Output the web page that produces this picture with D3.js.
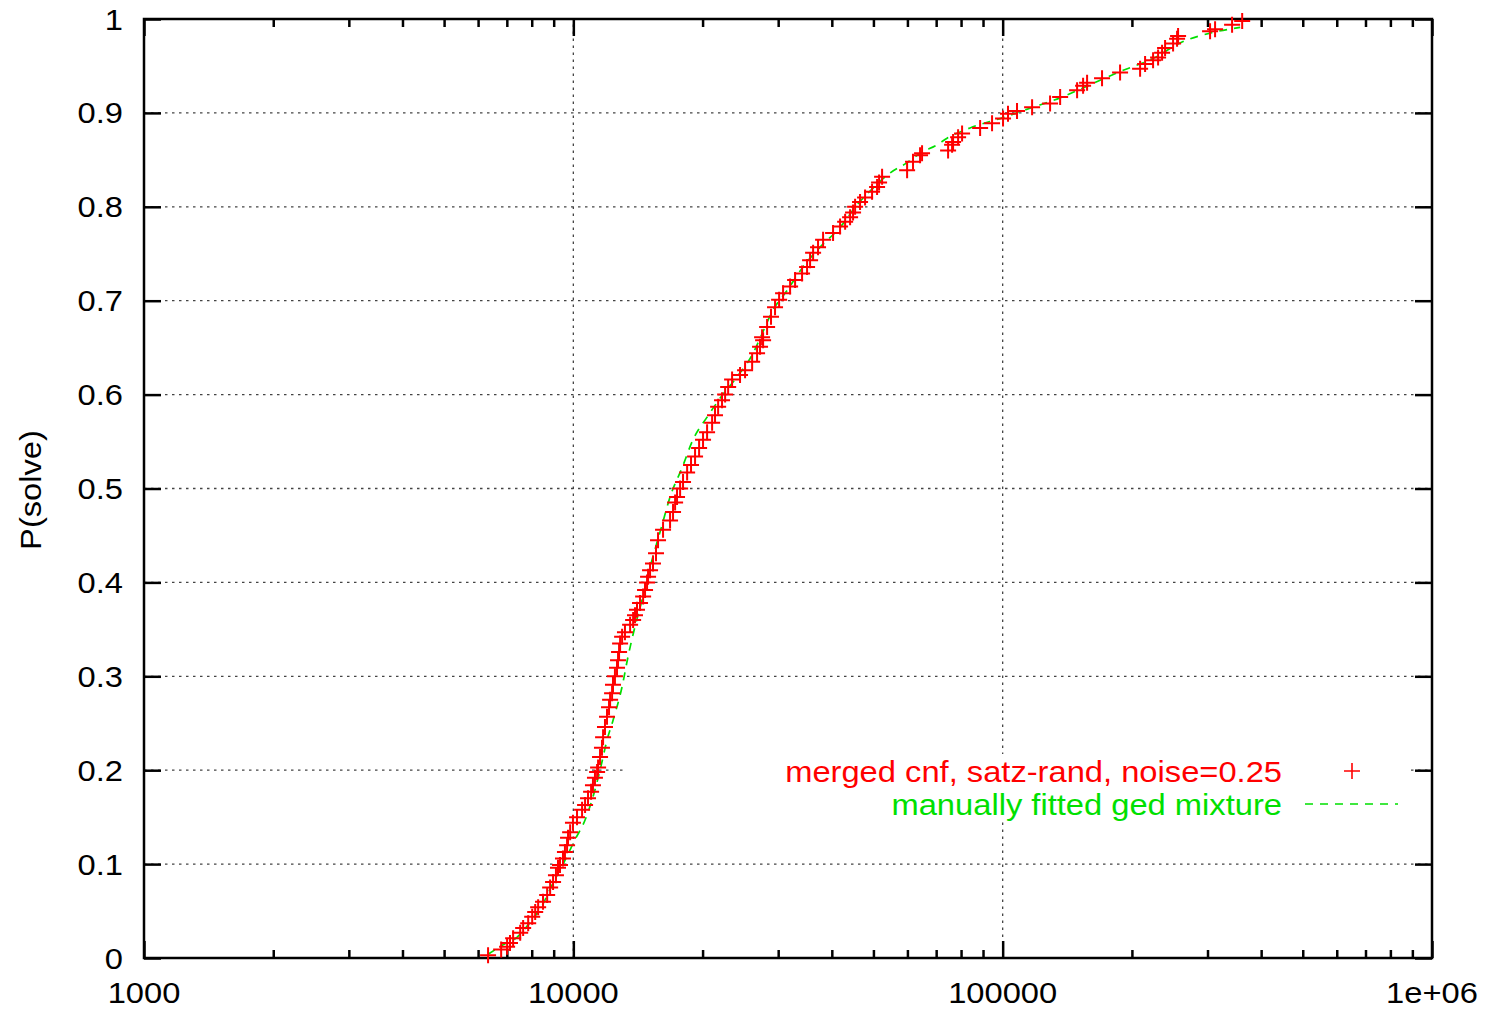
<!DOCTYPE html>
<html>
<head>
<meta charset="utf-8">
<script src="https://cdn.jsdelivr.net/npm/d3@7"></script>
<style>
  body { margin: 0; background: #fff; }
  text { font-family: "Liberation Sans", Arial, Helvetica, sans-serif; }
</style>
</head>
<body>
<div id="chart"></div>
<script>
// run length (x) and P(solve) (y)
var solveX = [6330, 6790, 7010, 7120, 7240, 7520, 7640, 7850, 8020, 8150, 8280, 8500, 8690, 8830, 8970, 9110, 9210, 9310, 9460, 9560, 9670, 9720, 9830, 9980, 10200, 10480, 10650, 10820, 11000, 11110, 11230, 11360,
  11420, 11540, 11660, 11730, 11850, 11980, 12110, 12180, 12310, 12370, 12500, 12640, 12710, 12780, 12850, 12990, 13190, 13560, 13780, 13920, 14070, 14300, 14540, 14690, 14850, 14930, 15090,
  15330, 15580, 15750, 16180, 16800, 17070, 17260, 17440, 17730, 18010, 18410, 18800, 19210, 19630, 20050, 20490, 21050, 21380, 21740, 22200, 22570, 22940, 23430, 24450, 25120, 26090, 26790, 27220, 27670,
  27520, 28270, 28870, 29500, 30150, 30800, 31980, 32850, 34100, 35030, 35600, 36180, 37150, 38170, 40270, 41810, 42960, 44120, 44830, 45320, 46540, 47810, 49640, 50990, 51540, 52380, 59900, 61830, 64210, 64900,
  74630, 76240, 76650, 78740, 80440, 88610, 94470, 100200, 102900, 108000, 117100, 128950, 136100, 149060, 153930, 157270, 170400, 187700, 208980, 214650, 224050, 230150, 235130, 238950, 249430, 254830, 256200, 304150, 312430, 342250, 361300];
var solveP = [.003, .009, .012, .016, .021, .027, .032, .037, .044, .049, .054, .060, .067, .075, .081, .088, .096, .099, .106, .113, .120, .128, .134, .144, .150, .158, .163, .170, .177, .184, .192, .198,
  .203, .214, .224, .235, .246, .257, .267, .275, .282, .291, .300, .309, .317, .326, .335, .342, .347, .355, .360, .365, .371, .378, .385, .392, .400, .406, .413,
  .420, .431, .445, .456, .466, .475, .485, .491, .500, .507, .517, .525, .534, .543, .552, .560, .570, .578, .587, .594, .600, .608, .616, .621, .626, .635, .644, .651, .658,
  .661, .672, .683, .693, .701, .708, .715, .722, .729, .736, .743, .751, .757, .765, .772, .779, .784, .789, .794, .800, .805, .810, .816, .821, .826, .832, .839, .848, .855, .857,
  .860, .866, .869, .874, .878, .884, .889, .894, .899, .902, .906, .910, .917, .924, .929, .932, .937, .943, .947, .952, .956, .959, .964, .969, .974, .979, .982, .987, .989, .994, .998];

// manually fitted ged mixture, sampled off the plot
var fitX = [6330, 6860, 7390, 7930, 8460, 8970, 9560, 10090, 10650, 11050, 11540, 11980, 12370, 12990, 13410, 13920, 14450, 15090, 16090, 16800, 17920, 19000, 20490, 21960, 24060, 26220, 27220, 29190, 31470, 34280, 37560, 41810, 45800, 49910, 54670, 59900, 64210, 70360, 74230, 83960, 100200, 115820, 136100, 159780, 187700, 224050, 263200, 304150, 357400];
var fitP = [.004, .014, .022, .038, .056, .080, .104, .126, .147, .168, .200, .232, .253, .289, .321, .353, .381, .416, .461, .491, .522, .552, .576, .596, .619, .644, .660, .690, .711, .736, .757, .778, .802, .820, .836, .847, .857, .866, .873, .884, .895, .905, .916, .930, .944, .958, .976, .985, .991];

var xMajor = [1000, 10000, 100000, 1000000];
var xMajorLabels = ["1000", "10000", "100000", "1e+06"];
var xMinor = [2000, 3000, 4000, 5000, 6000, 7000, 8000, 9000, 20000, 30000, 40000, 50000, 60000, 70000, 80000, 90000, 200000, 300000, 400000, 500000, 600000, 700000, 800000, 900000];
var yTicks = [0, .1, .2, .3, .4, .5, .6, .7, .8, .9, 1];
var yTickLabels = ["0", "0.1", "0.2", "0.3", "0.4", "0.5", "0.6", "0.7", "0.8", "0.9", "1"];
var legendLabels = ["merged cnf, satz-rand, noise=0.25", "manually fitted ged mixture"];

var svgWidth = 1485;
var svgHeight = 1010;
var plotL = 144, plotR = 1432, plotT = 19, plotB = 958;
var red = "#ff0000", green = "#00e000";
var stretch = "scale(1.09,1)";

var svg = d3.select("#chart").append("svg")
  .attr("width", svgWidth)
  .attr("height", svgHeight);

var xScale = d3.scaleLog().domain([1000, 1000000]).range([plotL, plotR]);
var yScale = d3.scaleLinear().domain([0, 1]).range([plotB, plotT]);

// key area, grid lines are not drawn through it
var keyBox = {x0: 627, x1: 1410, y0: 754, y1: 822};
var defs = svg.append("defs");
var mask = defs.append("mask").attr("id", "gridmask")
  .attr("maskUnits", "userSpaceOnUse")
  .attr("x", 0).attr("y", 0).attr("width", svgWidth).attr("height", svgHeight);
mask.append("rect").attr("x", 0).attr("y", 0).attr("width", svgWidth).attr("height", svgHeight).attr("fill", "#fff");
mask.append("rect").attr("x", keyBox.x0).attr("y", keyBox.y0)
  .attr("width", keyBox.x1 - keyBox.x0).attr("height", keyBox.y1 - keyBox.y0).attr("fill", "#000");

// grid
var grid = svg.append("g").attr("mask", "url(#gridmask)")
  .attr("stroke", "#444").attr("stroke-width", 1.3).attr("stroke-dasharray", "2.5,4.5");
grid.selectAll(".hgrid").data(yTicks.slice(1, -1)).enter().append("line")
  .attr("x1", plotL).attr("x2", plotR)
  .attr("y1", d => yScale(d)).attr("y2", d => yScale(d));
grid.selectAll(".vgrid").data(xMajor.slice(1, -1)).enter().append("line")
  .attr("x1", d => xScale(d)).attr("x2", d => xScale(d))
  .attr("y1", plotB).attr("y2", plotT);

// ticks, pointing inward on all four sides
function styleAxis(g) {
  g.select(".domain").remove();
  g.selectAll("line").attr("stroke", "#000").attr("stroke-width", 2.5);
  g.selectAll("text").remove();
}
svg.append("g").attr("transform", "translate(0," + plotB + ")")
  .call(d3.axisBottom(xScale).tickValues(xMajor).tickSize(-17)).call(styleAxis);
svg.append("g").attr("transform", "translate(0," + plotB + ")")
  .call(d3.axisBottom(xScale).tickValues(xMinor).tickSize(-8)).call(styleAxis);
svg.append("g").attr("transform", "translate(0," + plotT + ")")
  .call(d3.axisTop(xScale).tickValues(xMajor).tickSize(-17)).call(styleAxis);
svg.append("g").attr("transform", "translate(0," + plotT + ")")
  .call(d3.axisTop(xScale).tickValues(xMinor).tickSize(-8)).call(styleAxis);
svg.append("g").attr("transform", "translate(" + plotL + ",0)")
  .call(d3.axisLeft(yScale).tickValues(yTicks).tickSize(-17)).call(styleAxis);
svg.append("g").attr("transform", "translate(" + plotR + ",0)")
  .call(d3.axisRight(yScale).tickValues(yTicks).tickSize(-17)).call(styleAxis);

// border
svg.append("rect")
  .attr("x", plotL).attr("y", plotT)
  .attr("width", plotR - plotL).attr("height", plotB - plotT)
  .attr("fill", "none").attr("stroke", "#000").attr("stroke-width", 2.5);

// tick labels
svg.selectAll(".xlab").data(xMajor).enter().append("text")
  .attr("transform", (d, i) => "translate(" + xScale(d) + ",1003)" + stretch)
  .attr("text-anchor", "middle").attr("font-size", 30)
  .text((d, i) => xMajorLabels[i]);
svg.selectAll(".ylab").data(yTicks).enter().append("text")
  .attr("transform", d => "translate(123," + (yScale(d) + 10.5) + ")" + stretch)
  .attr("text-anchor", "end").attr("font-size", 30)
  .text((d, i) => yTickLabels[i]);

// y title
svg.append("text")
  .attr("transform", "translate(41,490) rotate(-90)" + stretch)
  .attr("text-anchor", "middle").attr("font-size", 30)
  .text("P(solve)");

// fitted curve
var fitData = fitX.map((x, i) => [x, fitP[i]]);
var line = d3.line()
  .x(d => xScale(d[0]))
  .y(d => yScale(d[1]))
  .curve(d3.curveMonotoneX);
svg.append("path")
  .datum(fitData)
  .attr("d", line)
  .attr("fill", "none").attr("stroke", green).attr("stroke-width", 1.7)
  .attr("stroke-dasharray", "8,7");

// data points as "+"
var half = 8;
var solveData = solveX.map((x, i) => [x, solveP[i]]);
var pts = svg.append("g").attr("stroke", red).attr("stroke-width", 2);
pts.selectAll("path").data(solveData).enter().append("path")
  .attr("d", d => {
    var cx = xScale(d[0]), cy = yScale(d[1]);
    return "M" + (cx - half) + "," + cy + "H" + (cx + half) + "M" + cx + "," + (cy - half) + "V" + (cy + half);
  });

// legend
svg.append("text")
  .attr("transform", "translate(1282,782)" + stretch)
  .attr("text-anchor", "end").attr("font-size", 30).attr("fill", red)
  .text(legendLabels[0]);
svg.append("path")
  .attr("d", "M" + (1352 - half) + ",771H" + (1352 + half) + "M1352," + (771 - half) + "V" + (771 + half))
  .attr("stroke", red).attr("stroke-width", 1.6);
svg.append("text")
  .attr("transform", "translate(1282,815)" + stretch)
  .attr("text-anchor", "end").attr("font-size", 30).attr("fill", green)
  .text(legendLabels[1]);
svg.append("line")
  .attr("x1", 1305).attr("x2", 1398).attr("y1", 804).attr("y2", 804)
  .attr("stroke", green).attr("stroke-width", 1.6).attr("stroke-dasharray", "8,7");
</script>
</body>
</html>
